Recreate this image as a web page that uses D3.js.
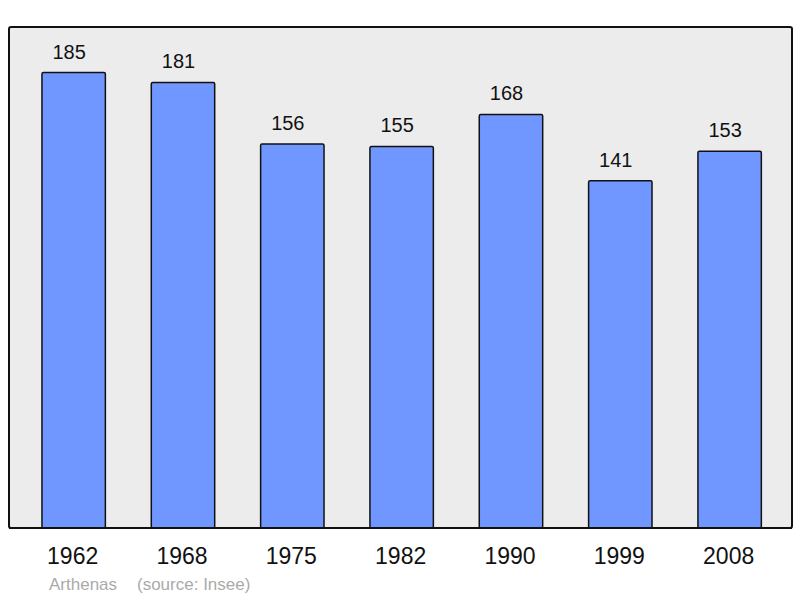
<!DOCTYPE html>
<html>
<head>
<meta charset="utf-8">
<script src="https://cdn.jsdelivr.net/npm/d3@7"></script>
<style>
  body { margin: 0; background: #fff; }
  text { font-family: "Liberation Sans", Arial, sans-serif; }
</style>
</head>
<body>
<div id="chart"></div>
<script>
var years = ["1962", "1968", "1975", "1982", "1990", "1999", "2008"];
var population = [185, 181, 156, 155, 168, 141, 153];
var commune = "Arthenas";
var source = "(source: Insee)";

var W = 800, H = 598;
var panel = {left: 9, top: 27, right: 792, bottom: 528};

var svg = d3.select("#chart").append("svg")
    .attr("width", W)
    .attr("height", H);

// grey panel behind the bars
svg.append("rect")
    .attr("x", panel.left)
    .attr("y", panel.top)
    .attr("width", panel.right - panel.left)
    .attr("height", panel.bottom - panel.top)
    .attr("rx", 2)
    .style("fill", "#ececec")
    .style("stroke", "#111")
    .style("stroke-width", 2);

var x = d3.scaleBand()
    .domain(years)
    .range([19, 784.3])
    .paddingInner(0.42)
    .paddingOuter(0.21);

var y = d3.scaleLinear()
    .domain([0, d3.max(population) * 1.1])
    .range([panel.bottom, panel.top]);

var data = years.map(function (d, i) { return {year: d, value: population[i]}; });

svg.selectAll(".bar")
    .data(data)
    .enter().append("rect")
    .attr("class", "bar")
    .attr("x", function (d) { return x(d.year); })
    .attr("y", function (d) { return y(d.value); })
    .attr("width", x.bandwidth())
    .attr("height", function (d) { return panel.bottom - y(d.value); })
    .attr("rx", 1.5)
    .style("fill", "#7096ff")
    .style("stroke", "#111")
    .style("stroke-width", 1.5);

// redraw bottom border over the bars
svg.append("line")
    .attr("x1", panel.left)
    .attr("x2", panel.right)
    .attr("y1", panel.bottom)
    .attr("y2", panel.bottom)
    .style("stroke", "#111")
    .style("stroke-width", 2);

// value labels sit a little left of the bar centre
svg.selectAll(".val")
    .data(data)
    .enter().append("text")
    .attr("class", "val")
    .attr("x", function (d) { return x(d.year) + x.bandwidth() / 2 - 4.5; })
    .attr("y", function (d) { return y(d.value) - 14; })
    .style("text-anchor", "middle")
    .style("font-size", "20px")
    .style("fill", "#111")
    .text(function (d) { return d.value; });

svg.selectAll(".yr")
    .data(years)
    .enter().append("text")
    .attr("class", "yr")
    .attr("x", function (d) { return x(d) + x.bandwidth() / 2 - 1; })
    .attr("y", 564)
    .style("text-anchor", "middle")
    .style("font-size", "23px")
    .style("fill", "#111")
    .text(function (d) { return d; });

svg.append("text")
    .attr("x", 49)
    .attr("y", 590)
    .style("font-size", "17px")
    .style("fill", "#aaa")
    .text(commune);

svg.append("text")
    .attr("x", 137)
    .attr("y", 590)
    .style("font-size", "17px")
    .style("fill", "#aaa")
    .text(source);
</script>
</body>
</html>
